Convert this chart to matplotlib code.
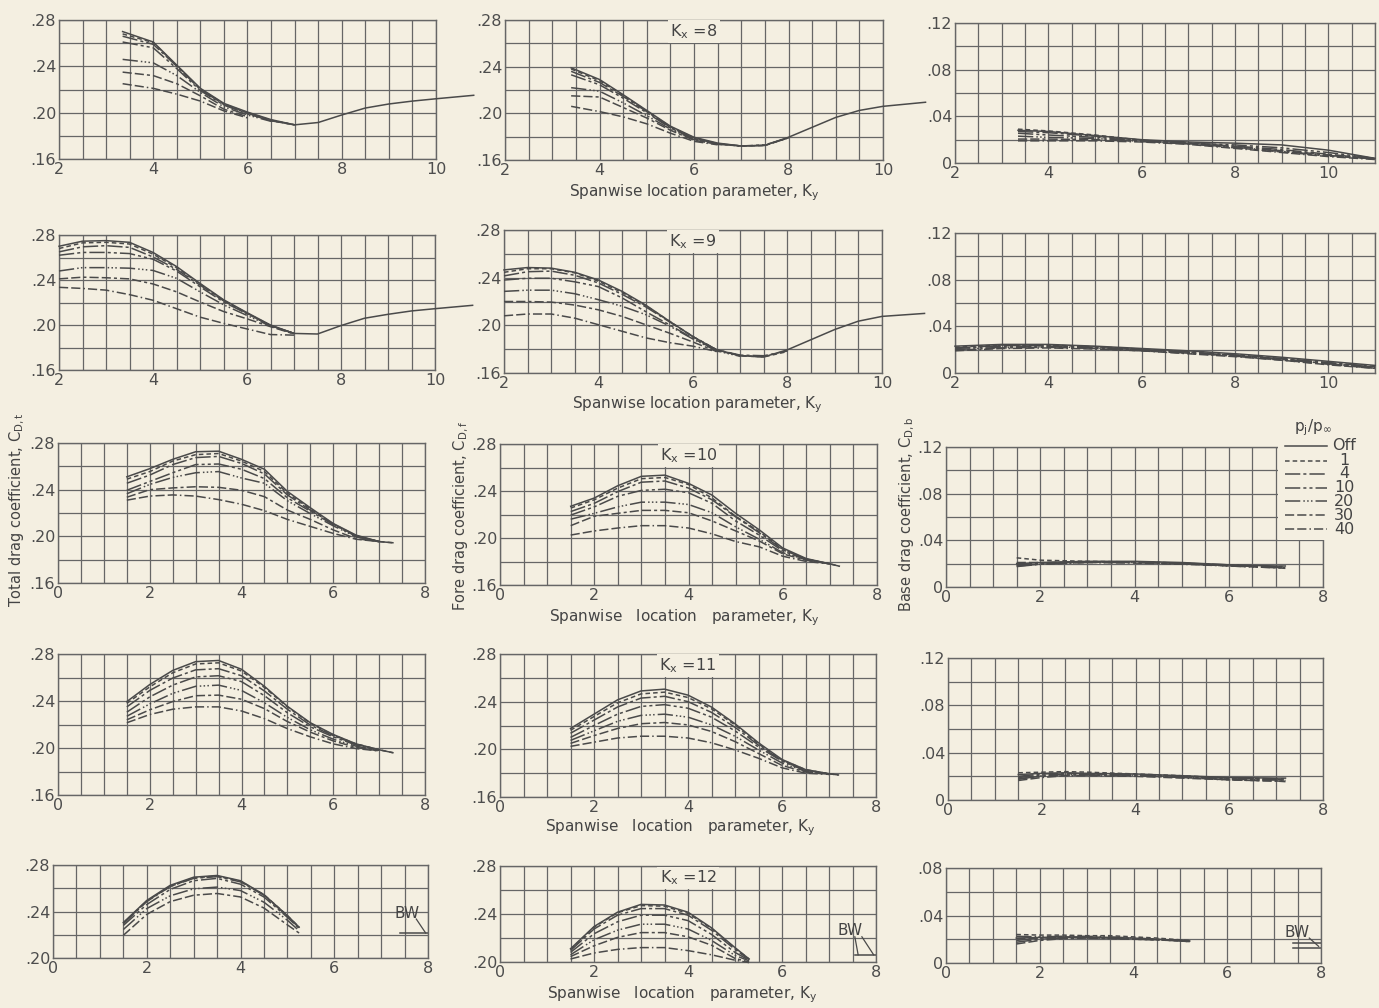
import numpy as np
import matplotlib
matplotlib.use('Agg')
import matplotlib.pyplot as plt
from matplotlib.lines import Line2D
from matplotlib.patches import Rectangle

PAPER = '#f4efe1'
INK = '#4a4a4a'
GRID = '#666666'
W, H = 1379, 1008

series_labels = ['Off', '1', '4', '10', '20', '30', '40']
kx_values = [8, 9, 10, 11, 12]

# ---------------- Kx = 8 ----------------
ky_total_8 = [3.35, 4, 4.5, 5, 5.5, 6, 6.5, 7, 7.5, 8, 8.5, 9, 9.5, 10, 10.8]
cd_total_8 = [
    [.270, .261, .241, .221, .208, .2005, .194, .1895, .1915, .198, .204, .2075, .210, .212, .215],
    [.268, .2605, .2405, .2205, .2075, .200, .1935, .1895],
    [.266, .259, .240, .220, .207, .1995, .193, .1895],
    [.261, .256, .238, .219, .2065, .199, .193, .1895],
    [.246, .243, .232, .2175, .205, .198, .1925],
    [.235, .232, .225, .2145, .203, .1965],
    [.225, .221, .216, .210, .2015, .1955],
]
ky_fore_8 = [3.4, 4, 4.5, 5, 5.5, 6, 6.5, 7, 7.5, 8, 8.5, 9, 9.5, 10, 10.9]
cd_fore_8 = [
    [.239, .229, .216, .2025, .189, .1795, .1745, .172, .1725, .1795, .188, .1965, .2025, .206, .2095],
    [.238, .228, .2155, .202, .1885, .179, .174, .172, .1725, .179],
    [.236, .2265, .2145, .2015, .188, .1785, .174, .172, .1725, .179],
    [.233, .2245, .213, .2005, .1875, .178, .1735, .172, .173, .179],
    [.222, .219, .209, .198, .1865, .1775, .1735, .172],
    [.215, .214, .205, .196, .1855, .177, .1735],
    [.206, .2015, .197, .191, .183, .176, .173],
]
ky_base_8 = [3.35, 4, 5, 6, 7, 8, 9, 10, 11]
cd_base_8 = [
    [.028, .027, .0235, .020, .018, .017, .0155, .011, .004],
    [.029, .0275, .024, .0195, .0165, .013, .0095, .006, .0035],
    [.027, .026, .023, .0195, .017, .0145, .0115, .0075, .0035],
    [.0255, .024, .022, .019, .017, .0155, .013, .009, .004],
    [.023, .022, .021, .0185, .0165, .0135, .010, .0065, .0035],
    [.0205, .0205, .020, .0185, .0165, .014, .0105, .007, .0035],
    [.019, .019, .019, .018, .016, .0125, .009, .0055, .003],
]

# ---------------- Kx = 9 ----------------
ky_total_9 = [2, 2.5, 3, 3.5, 4, 4.5, 5, 5.5, 6, 6.5, 7, 7.5, 8, 8.5, 9, 9.5, 10, 10.8]
cd_total_9 = [
    [.270, .2745, .275, .2735, .2645, .252, .237, .2225, .211, .200, .1925, .192, .1995, .206, .2095, .2125, .2145, .2175],
    [.268, .273, .2735, .272, .263, .251, .2365, .222, .2105, .1995, .1925],
    [.265, .2695, .2705, .269, .2605, .2495, .2355, .2215, .2105, .1995, .1925],
    [.262, .2645, .2645, .2635, .2585, .248, .234, .2205, .210, .1995, .1925],
    [.248, .251, .251, .2505, .2485, .2415, .2295, .218, .2085, .199, .1925],
    [.241, .2425, .242, .241, .2365, .2295, .2205, .212, .2055, .1985, .192],
    [.2335, .2325, .231, .227, .222, .2145, .207, .2015, .1965, .1915, .191],
]
ky_fore_9 = [2, 2.5, 3, 3.5, 4, 4.5, 5, 5.5, 6, 6.5, 7, 7.5, 8, 8.5, 9, 9.5, 10, 10.9]
cd_fore_9 = [
    [.2465, .2485, .248, .2445, .238, .2285, .217, .2035, .1905, .1795, .1745, .1735, .1795, .188, .1965, .2035, .2075, .210],
    [.2445, .2475, .2475, .244, .237, .2275, .2165, .2035, .1905, .1795, .1745, .1735, .178],
    [.2415, .245, .2455, .242, .2355, .226, .2155, .203, .1905, .1795, .175, .1745, .1785],
    [.238, .2395, .2395, .2365, .2325, .223, .2115, .2005, .189, .179, .1745, .1735],
    [.2285, .2295, .2295, .2265, .2215, .216, .209, .1995, .1885, .1785, .174],
    [.220, .220, .2195, .217, .213, .2075, .2005, .1935, .186, .178],
    [.208, .2095, .2095, .206, .2005, .195, .1895, .1855, .1825, .178],
]
ky_base_9 = [2, 3, 4, 5, 6, 7, 8, 9, 10, 11]
cd_base_9 = [
    [.023, .0245, .0245, .023, .021, .019, .0165, .0135, .010, .0065],
    [.022, .024, .024, .0225, .0205, .018, .015, .012, .008, .005],
    [.0215, .0235, .0235, .022, .020, .018, .0155, .0125, .009, .0055],
    [.021, .023, .023, .022, .020, .0175, .015, .012, .0085, .005],
    [.020, .022, .0225, .0215, .0195, .017, .0145, .0115, .008, .0045],
    [.0195, .0215, .022, .021, .019, .017, .0145, .011, .0075, .004],
    [.019, .021, .0215, .0205, .019, .0165, .014, .011, .007, .004],
]

# ---------------- Kx = 10 ----------------
ky_total_10 = [1.5, 2, 2.5, 3, 3.5, 4, 4.5, 5, 5.5, 6, 6.5, 7, 7.3]
cd_total_10 = [
    [.251, .258, .266, .2725, .273, .266, .2575, .2385, .2245, .211, .201, .1955, .1945],
    [.249, .2555, .2645, .270, .271, .2645, .2555, .237, .2235, .2105, .2005, .1955, .1945],
    [.2455, .2525, .2615, .2675, .2685, .2625, .2535, .2355, .2225, .2105, .2005, .1955],
    [.2395, .247, .2545, .2615, .262, .2575, .2495, .233, .2215, .210, .200, .1955],
    [.2365, .2445, .2505, .2545, .2555, .250, .2455, .2305, .2195, .209, .1995, .1955],
    [.2335, .240, .2415, .2425, .242, .2395, .234, .2225, .2145, .2055, .198, .1955],
    [.231, .2345, .2355, .2345, .2315, .2275, .222, .2145, .2085, .2025, .1975, .1955],
]
ky_fore_10 = [1.5, 2, 2.5, 3, 3.5, 4, 4.5, 5, 5.5, 6, 6.5, 7, 7.2]
cd_fore_10 = [
    [.227, .234, .2445, .2525, .2535, .2465, .2365, .221, .207, .1915, .1825, .178, .176],
    [.2255, .2325, .2425, .2505, .2515, .2455, .234, .2185, .2055, .1905, .182, .178, .176],
    [.2225, .2295, .2395, .2475, .2485, .2425, .2325, .218, .2045, .190, .182, .178],
    [.2195, .2265, .2355, .2405, .2415, .2385, .2295, .2145, .2025, .189, .1815, .178],
    [.216, .221, .2265, .2305, .2305, .2285, .2215, .2095, .199, .1875, .1815, .178],
    [.2105, .2185, .221, .2235, .2235, .2215, .2145, .206, .1975, .1865, .181, .178],
    [.2025, .206, .2085, .2105, .2105, .2085, .2035, .197, .1925, .1845, .180, .178],
]
ky_base_10 = [1.5, 2, 3, 4, 5, 6, 7, 7.2]
cd_base_10 = [
    [.020, .021, .022, .022, .021, .019, .018, .018],
    [.025, .023, .022, .0215, .020, .0185, .017, .0165],
    [.019, .0205, .0215, .0215, .0205, .019, .0175, .0175],
    [.0185, .020, .0215, .0215, .0205, .0185, .017, .017],
    [.0175, .0195, .021, .021, .020, .018, .0165, .0165],
    [.021, .021, .0215, .021, .020, .0185, .017, .017],
    [.018, .0195, .021, .0205, .0195, .018, .0165, .016],
]

# ---------------- Kx = 11 ----------------
ky_total_11 = [1.5, 2, 2.5, 3, 3.5, 4, 4.5, 5, 5.5, 6, 6.5, 7, 7.3]
cd_total_11 = [
    [.2395, .254, .266, .2735, .2745, .267, .2525, .2355, .2215, .2115, .2035, .1985, .196],
    [.238, .252, .264, .2715, .2725, .2655, .2515, .235, .221, .211, .2035, .1985, .196],
    [.235, .249, .2595, .2665, .2675, .2615, .2485, .233, .2195, .2105, .203, .1985],
    [.2305, .2435, .2535, .2605, .2615, .2565, .2445, .230, .218, .2095, .2025, .198],
    [.227, .2375, .2465, .2525, .2535, .249, .2385, .226, .2155, .2075, .2015, .198],
    [.224, .2325, .2395, .2445, .245, .2415, .2335, .2225, .2135, .206, .2005, .1975],
    [.2215, .2285, .233, .235, .235, .2315, .225, .2165, .2095, .2035, .1995, .1975],
]
ky_fore_11 = [1.5, 2, 2.5, 3, 3.5, 4, 4.5, 5, 5.5, 6, 6.5, 7, 7.2]
cd_fore_11 = [
    [.2175, .2295, .2415, .249, .2505, .2455, .2355, .2215, .2055, .1915, .183, .1795, .1785],
    [.216, .2275, .239, .2465, .248, .2435, .234, .2205, .2045, .191, .183, .1795, .1785],
    [.2135, .2245, .2355, .243, .2445, .240, .231, .2185, .2035, .1905, .1825, .1795],
    [.210, .220, .2295, .236, .2375, .2345, .227, .2155, .202, .190, .182, .1795],
    [.2075, .2155, .2235, .2285, .2295, .227, .2205, .211, .1995, .1885, .1815, .179],
    [.205, .2115, .2175, .2215, .2225, .2205, .215, .2065, .1965, .1865, .181, .179],
    [.2025, .206, .2095, .211, .211, .2095, .2055, .1995, .1925, .1845, .180, .179],
]
ky_base_11 = [1.5, 2, 2.5, 3, 4, 5, 6, 7, 7.2]
cd_base_11 = [
    [.0215, .0225, .023, .0225, .022, .0205, .019, .0185, .0185],
    [.023, .0235, .024, .0235, .022, .0205, .0185, .0175, .017],
    [.020, .022, .0225, .022, .0215, .020, .0185, .018, .018],
    [.019, .021, .022, .022, .021, .0195, .018, .017, .017],
    [.0175, .0205, .0215, .0215, .021, .0195, .0175, .017, .0165],
    [.018, .020, .021, .021, .0205, .019, .017, .016, .016],
    [.0165, .019, .0205, .0205, .020, .0185, .017, .016, .0155],
]

# ---------------- Kx = 12 ----------------
ky_total_12 = [1.5, 2, 2.5, 3, 3.5, 4, 4.5, 5, 5.25]
cd_total_12 = [
    [.2305, .2495, .2625, .2695, .271, .2665, .2545, .2365, .2265],
    [.230, .249, .2615, .269, .2705, .266, .2545, .2365, .2265],
    [.2295, .2485, .2615, .2685, .270, .2655, .254, .236, .226],
    [.228, .246, .259, .2665, .2685, .2635, .2525, .235, .2255],
    [.2245, .2425, .2535, .2595, .261, .258, .248, .2325, .2235],
    [.2195, .2375, .2485, .254, .2555, .2525, .243, .2285, .2215],
    [],
]
ky_fore_12 = [1.5, 2, 2.5, 3, 3.5, 4, 4.5, 5, 5.3]
cd_fore_12 = [
    [.211, .2295, .2415, .248, .2475, .2415, .2285, .212, .2025],
    [.2105, .229, .241, .247, .2465, .2405, .228, .2115, .2025],
    [.2095, .2275, .239, .2445, .2445, .239, .2265, .2105, .202],
    [.208, .2235, .2335, .239, .239, .2345, .223, .208, .2015],
    [.206, .2185, .2265, .2315, .2315, .2275, .218, .2055, .201],
    [.2045, .2135, .2205, .2245, .2245, .221, .214, .203, .200],
    [.2025, .2075, .2105, .212, .212, .2095, .206, .2015, .1995],
]
ky_base_12 = [1.5, 2, 2.5, 3, 3.5, 4, 4.5, 5, 5.2]
cd_base_12 = [
    [.021, .0215, .022, .022, .0215, .021, .020, .019, .0185],
    [.024, .0235, .0235, .023, .023, .022, .021, .0195, .019],
    [.019, .021, .0215, .0215, .021, .0205, .020, .019, .0185],
    [.0175, .020, .021, .0215, .021, .0205, .0195, .019, .0185],
    [.0225, .022, .0225, .0225, .022, .021, .020, .019, .0185],
    [.016, .019, .0205, .021, .0205, .020, .0195, .0185, .018],
    [.0205, .021, .0215, .021, .021, .020, .0195, .0185, .018],
]

# ------------------------------------------------------------------
plt.rcParams['font.family'] = ['DejaVu Sans']
plt.rcParams['mathtext.default'] = 'regular'

fig = plt.figure(figsize=(W / 100, H / 100), dpi=100, facecolor=PAPER)

STYLES = ['-', (0, (3, 2)), (0, (10, 2, 2, 2)), (0, (10, 2, 2, 2, 2, 2)),
          (0, (10, 2, 1, 1.5, 1, 1.5, 1, 2)), (0, (6, 2, 6, 2, 2, 2)),
          (0, (6, 2, 6, 2, 1, 2))]


def fmt_y(v):
    if abs(v) < 1e-9:
        return '0'
    return ('%.2f' % v).lstrip('0')


def panel(box, xlim, ylim, xticks, yticks, x, ys):
    l, t, r, b = box
    ax = fig.add_axes([l / W, 1 - b / H, (r - l) / W, (b - t) / H])
    ax.set_facecolor('none')
    ax.set_xlim(xlim)
    ax.set_ylim(ylim)
    ax.set_xticks(xticks)
    ax.set_xticklabels(['%g' % v for v in xticks])
    ax.set_xticks(np.arange(xlim[0], xlim[1] + 1e-6, 0.5), minor=True)
    ax.set_yticks(yticks)
    ax.set_yticklabels([fmt_y(v) for v in yticks])
    ax.set_yticks(np.arange(ylim[0], ylim[1] + 1e-6, 0.02), minor=True)
    ax.grid(which='both', color=GRID, lw=0.9)
    ax.tick_params(which='both', length=0, pad=2, labelsize=11.5, colors='#4d4d4d')
    for s in ax.spines.values():
        s.set_color(GRID)
        s.set_linewidth(1.0)
    for i, y in enumerate(ys):
        if len(y) == 0:
            continue
        ax.plot(x[:len(y)], y, color=INK, lw=1.1, ls=STYLES[i], clip_on=False,
                zorder=4)
    return ax


yt_main = [.16, .20, .24, .28]
yt_base = [0, .04, .08, .12]

# Row 1 (Kx = 8)
panel((59, 20, 436, 159), (2, 10), (.16, .28), [2, 4, 6, 8, 10], yt_main, ky_total_8, cd_total_8)
m1 = panel((505, 20, 883, 160), (2, 10), (.16, .28), [2, 4, 6, 8, 10], yt_main, ky_fore_8, cd_fore_8)
panel((955, 23, 1375, 163), (2, 11), (0, .12), [2, 4, 6, 8, 10], yt_base, ky_base_8, cd_base_8)
# Row 2 (Kx = 9)
panel((59, 235, 435, 370), (2, 10), (.16, .28), [2, 4, 6, 8, 10], yt_main, ky_total_9, cd_total_9)
m2 = panel((504, 230, 882, 373), (2, 10), (.16, .28), [2, 4, 6, 8, 10], yt_main, ky_fore_9, cd_fore_9)
panel((955, 233, 1375, 373), (2, 11), (0, .12), [2, 4, 6, 8, 10], yt_base, ky_base_9, cd_base_9)
# Row 3 (Kx = 10)
panel((58, 443, 425, 583), (0, 8), (.16, .28), [0, 2, 4, 6, 8], yt_main, ky_total_10, cd_total_10)
m3 = panel((500, 444, 877, 585), (0, 8), (.16, .28), [0, 2, 4, 6, 8], yt_main, ky_fore_10, cd_fore_10)
r3 = panel((946, 447, 1323, 587), (0, 8), (0, .12), [0, 2, 4, 6, 8], yt_base, ky_base_10, cd_base_10)
# Row 4 (Kx = 11)
panel((58, 654, 425, 795), (0, 8), (.16, .28), [0, 2, 4, 6, 8], yt_main, ky_total_11, cd_total_11)
m4 = panel((500, 654, 876, 797), (0, 8), (.16, .28), [0, 2, 4, 6, 8], yt_main, ky_fore_11, cd_fore_11)
panel((948, 658, 1323, 800), (0, 8), (0, .12), [0, 2, 4, 6, 8], yt_base, ky_base_11, cd_base_11)
# Row 5 (Kx = 12)
l5 = panel((53, 865, 428, 958), (0, 8), (.20, .28), [0, 2, 4, 6, 8], [.20, .24, .28], ky_total_12, cd_total_12)
m5 = panel((500, 866, 876, 962), (0, 8), (.20, .28), [0, 2, 4, 6, 8], [.20, .24, .28], ky_fore_12, cd_fore_12)
r5 = panel((946, 868, 1321, 963), (0, 8), (0, .08), [0, 2, 4, 6, 8], [0, .04, .08], ky_base_12, cd_base_12)

# Kx labels in middle column
for ax, kx, xc in [(m1, kx_values[0], 6), (m2, kx_values[1], 6), (m3, kx_values[2], 4),
                   (m4, kx_values[3], 4), (m5, kx_values[4], 4)]:
    ax.text(xc, .27, 'K$_x$ =%d' % kx, ha='center', va='center', fontsize=11.5,
            color='#444444', zorder=5,
            bbox=dict(facecolor=PAPER, edgecolor='none', pad=1.5))

# x-axis titles
for (xp, yp, txt) in [(694, 193, 'Spanwise location parameter, K$_y$'),
                      (697, 405, 'Spanwise location parameter, K$_y$'),
                      (684, 618, 'Spanwise   location   parameter, K$_y$'),
                      (680, 828, 'Spanwise   location   parameter, K$_y$'),
                      (682, 995, 'Spanwise   location   parameter, K$_y$')]:
    fig.text(xp / W, 1 - yp / H, txt, ha='center', va='center', fontsize=11,
             color='#444444')

# y-axis titles
for (xp, yp, txt) in [(17, 510, 'Total drag coefficient, C$_{D,t}$'),
                      (461, 516, 'Fore drag coefficient, C$_{D,f}$'),
                      (907, 514, 'Base drag coefficient, C$_{D,b}$')]:
    fig.text(xp / W, 1 - yp / H, txt, ha='center', va='center', rotation=90,
             fontsize=10.5, color='#444444')

# legend area (blank region over the grid)
r3.add_patch(Rectangle((7.04, 0.0405), 1.3, 0.09, facecolor=PAPER, edgecolor='none',
                       zorder=3, clip_on=False))
fig.text(1313 / W, 1 - 428 / H, 'p$_j$/p$_\\infty$', ha='center', va='center',
         fontsize=11, color='#444444')
leg_y = [446, 461, 474, 488, 501, 515, 529]
for i, lab in enumerate(series_labels):
    yy = 1 - leg_y[i] / H
    fig.add_artist(Line2D([1285 / W, 1327 / W], [yy, yy], color=INK, lw=1.1,
                          ls=STYLES[i], transform=fig.transFigure))
    fig.text(1344 / W, yy, lab, ha='center', va='center', fontsize=11.5,
             color='#444444')

# BW annotations
l5.text(7.55, .2385, 'BW', ha='center', va='center', fontsize=11, color='#444444')
l5.plot([7.75, 7.95], [.2335, .2215], color=INK, lw=0.9, clip_on=False)
l5.plot([7.4, 8.0], [.2215, .2215], color=INK, lw=1.1, clip_on=False)
m5.text(7.45, .226, 'BW', ha='center', va='center', fontsize=11, color='#444444')
m5.plot([7.55, 7.62], [.221, .206], color=INK, lw=0.9, clip_on=False)
m5.plot([7.7, 7.95], [.221, .206], color=INK, lw=0.9, clip_on=False)
m5.plot([7.55, 8.0], [.2055, .2055], color=INK, lw=1.1, clip_on=False)
r5.text(7.5, .0255, 'BW', ha='center', va='center', fontsize=11, color='#444444')
r5.plot([7.75, 7.95], [.021, .014], color=INK, lw=0.9, clip_on=False)
r5.plot([7.4, 8.0], [.0165, .0165], color=INK, lw=1.1, clip_on=False)
r5.plot([7.4, 8.0], [.013, .013], color=INK, lw=1.1, clip_on=False)

fig.savefig('out.png', dpi=100, facecolor=PAPER)
